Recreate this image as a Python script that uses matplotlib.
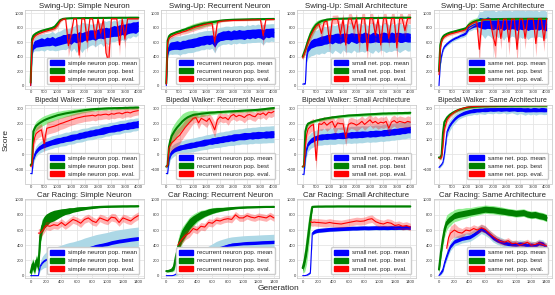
import numpy as np
import matplotlib
matplotlib.use("Agg")
import matplotlib.pyplot as plt
from matplotlib.patches import Patch

nan = np.nan

# generations (x) for swing-up / bipedal rows and for car racing row
gen = [0, 50, 100, 150, 200,
       300, 400, 500, 600, 700, 800, 900, 1000,
       1100, 1200, 1300, 1400, 1500, 1600, 1700, 1800, 1900, 2000,
       2100, 2200, 2300, 2400, 2500, 2600, 2700, 2800, 2900, 3000,
       3100, 3200, 3300, 3400, 3500, 3600, 3700, 3800, 3900, 4000]
gen_cr = [0, 25, 50, 75, 100, 125, 150, 175, 200,
          250, 300, 350, 400, 450, 500, 550, 600,
          650, 700, 750, 800, 850, 900, 950, 1000,
          1050, 1100, 1150, 1200, 1250, 1300, 1350, 1400]

# ---- Swing-Up: simple neuron
sw_sn_mean = [0, 470, 550, 570, 580,
              590, 600, 595, 610, 605, 620, 600, 615,
              625, 640, 645, 655, 640, 665, 655, 675, 665, 685,
              690, 700, 705, 695, 715, 725, 720, 735, 730, 745,
              755, 750, 765, 775, 770, 790, 795, 805, 800, 820]
sw_sn_nz = [0, 40, 50, 55, 50,
            55, 60, 50, 60, 55, 60, 55, 60,
            60, 65, 60, 65, 70, 60, 65, 70, 65, 60,
            65, 70, 65, 70, 65, 70, 75, 70, 65, 70,
            75, 70, 75, 70, 80, 75, 70, 75, 80, 70]
sw_sn_sd = [0, 60, 80, 90, 100,
            110, 110, 120, 110, 120, 130, 120, 130,
            130, 140, 150, 130, 170, 150, 200, 160, 210, 180,
            170, 150, 140, 160, 150, 140, 180, 150, 170, 140,
            150, 130, 150, 140, 160, 130, 140, 120, 130, 120]
sw_sn_best = [40, 640, 690, 705, 720,
              740, 755, 765, 775, 785, 795, 815, 860,
              905, 920, 925, 928, 930, 930, 930, 931, 931, 932,
              932, 932, 933, 933, 933, 934, 934, 934, 935, 935,
              935, 935, 936, 936, 936, 936, 937, 937, 937, 937]
sw_sn_bsd = [0, 40, 35, 30, 25,
             20, 20, 20, 25, 20, 25, 30, 35,
             15, 8, 6, 5, 5, 5, 5, 5, 5, 5,
             5, 5, 5, 5, 5, 5, 5, 5, 5, 5,
             5, 5, 5, 5, 5, 5, 5, 5, 5, 5]
sw_sn_eval = [0, 600, 650, 680, 695,
              715, 730, 745, 755, 765, 775, 790, 830,
              890, 915, 920, 550, 700, 922, 922, 420, 922, 922,
              600, 922, 922, 650, 922, 720, 922, 450, 330, 922,
              922, 922, 560, 922, 640, 922, 922, 922, 922, 922]
sw_sn_esd = [0, 30, 30, 25, 20,
             20, 20, 20, 20, 20, 25, 25, 30,
             20, 10, 10, 150, 120, 10, 10, 180, 10, 10,
             150, 10, 10, 130, 10, 120, 10, 160, 200, 10,
             10, 10, 150, 10, 130, 10, 10, 10, 10, 10]

# ---- Swing-Up: recurrent neuron
sw_rn_mean = [0, 460, 530, 545, 550,
              555, 560, 550, 565, 570, 580, 585, 590,
              600, 610, 620, 625, 635, 630, 640, 600, 660, 680,
              690, 695, 700, 690, 705, 700, 710, 705, 700, 715,
              710, 720, 715, 725, 720, 700, 730, 725, 735, 730]
sw_rn_nz = [0, 40, 50, 55, 55,
            55, 60, 55, 60, 55, 60, 60, 65,
            60, 65, 60, 65, 60, 65, 60, 70, 65, 60,
            65, 60, 65, 60, 65, 60, 65, 60, 65, 60,
            65, 60, 65, 60, 65, 70, 60, 65, 60, 65]
sw_rn_sd = [0, 80, 100, 110, 120,
            120, 125, 130, 125, 130, 125, 130, 130,
            125, 130, 125, 130, 125, 130, 125, 150, 130, 125,
            120, 125, 120, 125, 120, 125, 120, 125, 120, 125,
            120, 125, 120, 125, 120, 140, 120, 125, 120, 125]
sw_rn_best = [30, 620, 680, 700, 710,
              725, 740, 750, 765, 775, 790, 800, 815,
              825, 835, 845, 855, 860, 868, 875, 880, 888, 895,
              900, 903, 905, 907, 909, 910, 911, 912, 913, 914,
              915, 916, 916, 917, 917, 918, 918, 919, 919, 920]
sw_rn_bsd = [0, 40, 35, 30, 25,
             20, 20, 25, 25, 30, 35, 40, 40,
             40, 40, 40, 40, 35, 35, 30, 30, 20, 15,
             10, 10, 10, 10, 10, 10, 10, 10, 10, 10,
             10, 10, 10, 10, 10, 10, 10, 10, 10, 10]
sw_rn_eval = [20, 590, 650, 670, 680,
              700, 715, 725, 740, 750, 765, 780, 795,
              810, 820, 830, 840, 850, 855, 860, 600, 875, 885,
              890, 893, 895, 897, 899, 900, 901, 902, 903, 904,
              905, 906, 907, 908, 909, 690, 910, 911, 912, 912]
sw_rn_esd = [0, 30, 30, 25, 25,
             25, 25, 30, 30, 35, 40, 40, 45,
             45, 45, 45, 40, 40, 35, 35, 150, 25, 15,
             10, 10, 10, 10, 10, 10, 10, 10, 10, 10,
             10, 10, 10, 10, 10, 150, 10, 10, 10, 10]

# ---- Swing-Up: small architecture
sw_sa_mean = [20, 25, 30, 420, 520,
              570, 590, 600, 610, 620, 630, 640, 650,
              640, 660, 655, 650, 665, 660, 645, 670, 660, 650,
              665, 655, 670, 660, 650, 665, 670, 655, 660, 670,
              665, 655, 670, 660, 675, 665, 660, 670, 665, 660]
sw_sa_nz = [0, 5, 5, 40, 50,
            55, 60, 55, 60, 65, 60, 65, 60,
            65, 60, 70, 65, 60, 65, 70, 60, 65, 70,
            60, 65, 70, 65, 60, 70, 65, 60, 65, 70,
            65, 60, 70, 65, 60, 70, 65, 60, 65, 60]
sw_sa_sd = [0, 5, 5, 100, 140,
            160, 170, 160, 180, 170, 190, 170, 180,
            200, 170, 190, 210, 170, 200, 180, 220, 170, 190,
            200, 180, 210, 170, 190, 220, 180, 200, 170, 190,
            210, 180, 200, 170, 190, 210, 180, 170, 190, 180]
sw_sa_best = [400, 450, 500, 560, 620,
              720, 790, 840, 870, 890, 900, 910, 915,
              918, 920, 922, 923, 924, 925, 926, 927, 928, 929,
              930, 930, 931, 931, 932, 932, 933, 933, 934, 934,
              935, 935, 935, 936, 936, 936, 937, 937, 937, 938]
sw_sa_bsd = [30, 50, 60, 70, 70,
             70, 60, 50, 40, 30, 25, 20, 15,
             10, 10, 10, 10, 10, 10, 10, 10, 10, 10,
             10, 10, 10, 10, 10, 10, 10, 10, 10, 10,
             10, 10, 10, 10, 10, 10, 10, 10, 10, 10]
sw_sa_eval = [380, 430, 480, 540, 590,
              690, 760, 820, 850, 720, 880, 890, 600,
              910, 912, 915, 700, 920, 560, 920, 925, 780, 925,
              600, 925, 925, 480, 925, 925, 700, 925, 560, 925,
              925, 650, 925, 925, 520, 925, 925, 760, 925, 925]
sw_sa_esd = [30, 40, 50, 60, 60,
             60, 50, 40, 40, 120, 40, 40, 150,
             60, 60, 60, 150, 70, 150, 70, 70, 120, 70,
             150, 70, 70, 150, 70, 70, 130, 70, 150, 70,
             70, 130, 70, 70, 150, 70, 70, 120, 70, 70]

# ---- Swing-Up: same architecture
sw_sm_mean = [0, 300, 420, 500, 540,
              580, 610, 635, 655, 670, 690, 705, 725,
              800, 820, 840, 855, 870, 860, 850, 870, 860, 850,
              860, 850, 860, 845, 860, 850, 855, 860, 845, 855,
              850, 860, 845, 855, 850, 860, 850, 855, 845, 840]
sw_sm_nz = [0, 10, 10, 10, 10,
            10, 10, 10, 10, 10, 10, 15, 15,
            30, 30, 35, 40, 70, 75, 70, 80, 75, 80,
            75, 80, 70, 85, 75, 80, 70, 80, 85, 75,
            80, 75, 85, 80, 75, 80, 85, 75, 80, 85]
sw_sm_sd = [0, 30, 30, 30, 30,
            30, 30, 30, 30, 30, 35, 40, 40,
            50, 60, 60, 80, 150, 160, 200, 170, 180, 210,
            160, 190, 170, 220, 180, 200, 170, 190, 230, 180,
            200, 170, 210, 190, 180, 200, 170, 190, 200, 180]
sw_sm_best = [200, 560, 640, 675, 695,
              715, 730, 740, 750, 760, 770, 780, 790,
              835, 860, 880, 895, 905, 910, 912, 914, 915, 916,
              917, 918, 918, 919, 919, 920, 920, 920, 921, 921,
              921, 921, 922, 922, 922, 922, 922, 923, 923, 923]
sw_sm_bsd = [0, 40, 30, 25, 20,
             20, 20, 20, 20, 20, 20, 25, 30,
             50, 50, 45, 40, 20, 15, 10, 10, 10, 10,
             10, 10, 10, 10, 10, 10, 10, 10, 10, 10,
             10, 10, 10, 10, 10, 10, 10, 10, 10, 10]
sw_sm_eval = [150, 520, 610, 650, 670,
              695, 710, 720, 730, 740, 750, 760, 775,
              825, 850, 870, 885, 500, 905, 910, 912, 914, 700,
              550, 916, 650, 917, 918, 600, 918, 919, 500, 919,
              920, 650, 920, 921, 921, 580, 921, 922, 620, 922]
sw_sm_esd = [0, 30, 25, 20, 20,
             20, 20, 20, 20, 20, 20, 25, 30,
             45, 45, 40, 35, 200, 15, 10, 10, 10, 150,
             200, 10, 150, 10, 10, 180, 10, 10, 200, 10,
             10, 150, 10, 10, 10, 180, 10, 10, 150, 10]

# ---- Bipedal Walker: simple neuron
bw_sn_mean = [-125, -125, -30, 0, 20,
              40, 52, 62, 68, 74, 80, 85, 89,
              93, 97, 101, 105, 109, 113, 117, 121, 125, 129,
              133, 137, 140, 144, 147, 151, 155, 159, 163, 167,
              170, 173, 176, 180, 183, 186, 189, 192, 195, 198]
bw_sn_nz = [0, 0, 10, 15, 15,
            15, 15, 18, 18, 18, 18, 20, 20,
            18, 20, 18, 20, 22, 20, 18, 22, 20, 22,
            20, 22, 20, 22, 20, 22, 24, 22, 20, 22,
            24, 22, 24, 22, 20, 24, 22, 24, 22, 24]
bw_sn_sd = [5, 5, 30, 35, 35,
            35, 38, 40, 40, 40, 42, 40, 42,
            40, 42, 44, 40, 42, 44, 40, 42, 44, 42,
            40, 42, 44, 42, 40, 44, 42, 40, 44, 42,
            40, 42, 44, 42, 40, 42, 44, 40, 42, 40]
bw_sn_best = [-70, -60, 150, 170, 185,
              200, 212, 222, 230, 237, 243, 249, 255,
              259, 263, 267, 270, 273, 276, 279, 282, 285, 288,
              290, 292, 294, 295, 296, 297, 298, 299, 300, 300,
              301, 301, 302, 302, 303, 303, 304, 304, 305, 305]
bw_sn_bsd = [10, 10, 30, 30, 30,
             30, 30, 30, 28, 28, 28, 26, 26,
             24, 24, 22, 22, 20, 20, 18, 18, 16, 16,
             14, 14, 12, 12, 12, 10, 10, 10, 10, 10,
             10, 10, 10, 10, 10, 10, 10, 10, 10, 10]
bw_sn_eval = [-80, -70, 60, 110, 135,
              150, 160, 70, 170, 175, 180, 185, 192,
              200, 205, 212, 218, 225, 230, 236, 240, 244, 248,
              250, 252, 255, 250, 258, 256, 260, 262, 257, 265,
              262, 268, 270, 264, 272, 275, 270, 278, 282, 285]
bw_sn_esd = [10, 10, 40, 40, 40,
             40, 40, 60, 40, 40, 40, 40, 40,
             38, 38, 38, 36, 36, 36, 35, 35, 35, 34,
             34, 34, 32, 32, 32, 30, 30, 30, 30, 30,
             30, 30, 30, 30, 30, 30, 28, 28, 28, 28]

# ---- Bipedal Walker: recurrent neuron
bw_rn_mean = [-125, -125, -40, 0, 15,
              30, 38, 44, 48, 52, 56, 59, 62,
              66, 70, 73, 77, 80, 84, 87, 90, 93, 96,
              99, 102, 105, 108, 110, 113, 115, 117, 119, 120,
              122, 123, 125, 126, 127, 128, 129, 130, 131, 132]
bw_rn_nz = [0, 0, 10, 15, 15,
            15, 16, 18, 16, 18, 18, 20, 18,
            20, 18, 20, 22, 20, 18, 22, 20, 22, 20,
            22, 20, 22, 20, 24, 22, 20, 22, 24, 22,
            20, 24, 22, 24, 22, 20, 24, 22, 24, 22]
bw_rn_sd = [5, 5, 30, 35, 40,
            40, 40, 42, 42, 44, 44, 45, 45,
            45, 46, 45, 46, 48, 46, 48, 46, 48, 50,
            48, 50, 48, 50, 52, 50, 52, 50, 52, 54,
            52, 54, 52, 54, 55, 54, 55, 54, 55, 55]
bw_rn_best = [-80, -70, 50, 90, 120,
              150, 175, 195, 215, 230, 242, 250, 257,
              260, 262, 265, 267, 269, 271, 272, 273, 275, 276,
              277, 278, 279, 280, 281, 282, 283, 284, 285, 286,
              287, 288, 289, 290, 292, 294, 296, 298, 300, 302]
bw_rn_bsd = [10, 10, 40, 50, 50,
             50, 50, 50, 50, 45, 40, 35, 30,
             25, 20, 20, 18, 16, 15, 14, 12, 12, 10,
             10, 10, 10, 10, 10, 10, 10, 10, 10, 10,
             10, 10, 10, 10, 10, 10, 10, 10, 10, 10]
bw_rn_eval = [-80, -70, 40, 60, 75,
              90, 110, 125, 150, 175, 195, 215, 235,
              240, 205, 235, 225, 215, 235, 200, 160, 225, 245,
              235, 240, 225, 250, 260, 245, 255, 250, 240, 255,
              260, 250, 245, 265, 260, 270, 255, 275, 270, 280]
bw_rn_esd = [10, 10, 40, 50, 55,
             55, 55, 55, 50, 50, 45, 40, 35,
             30, 40, 30, 35, 40, 30, 45, 50, 35, 30,
             30, 30, 35, 30, 30, 30, 30, 30, 35, 30,
             30, 30, 30, 30, 30, 30, 30, 30, 30, 30]

# ---- Bipedal Walker: small architecture
bw_sa_mean = [-130, -130, -20, 40, 70,
              90, 100, 108, 112, 114, 116, 117, 118,
              119, 121, 122, 123, 124, 125, 126, 127, 128, 129,
              130, 131, 132, 133, 134, 135, 136, 137, 138, 140,
              142, 144, 146, 148, 150, 152, 155, 157, 160, 162]
bw_sa_nz = [0, 0, 10, 15, 15,
            16, 18, 16, 18, 20, 18, 20, 18,
            20, 22, 18, 20, 22, 20, 18, 22, 20, 22,
            20, 22, 20, 18, 22, 20, 22, 20, 18, 22,
            20, 22, 20, 22, 20, 22, 20, 22, 20, 22]
bw_sa_sd = [5, 5, 40, 50, 50,
            50, 52, 50, 52, 54, 52, 54, 52,
            54, 56, 52, 54, 56, 54, 52, 56, 54, 56,
            54, 56, 54, 52, 56, 54, 56, 54, 52, 56,
            54, 56, 54, 56, 54, 56, 54, 56, 54, 56]
bw_sa_best = [-80, -75, 150, 185, 200,
              208, 214, 220, 224, 228, 232, 235, 238,
              241, 243, 245, 247, 249, 251, 253, 254, 255, 256,
              257, 258, 259, 260, 261, 262, 263, 264, 265, 266,
              266, 267, 267, 268, 268, 269, 269, 270, 270, 271]
bw_sa_bsd = [10, 10, 20, 15, 12,
             10, 10, 10, 10, 10, 10, 10, 10,
             10, 10, 10, 10, 10, 10, 10, 10, 10, 10,
             10, 10, 10, 10, 10, 10, 10, 10, 10, 10,
             10, 10, 10, 10, 10, 10, 10, 10, 10, 10]
bw_sa_eval = [-80, -75, 50, 130, 165,
              185, 195, -40, 200, 195, 210, 190, 205,
              215, 175, 205, 200, 200, 110, 195, 205, 200, 190,
              200, 215, 195, 210, 225, 205, 215, 200, 210, 205,
              215, 170, 210, 220, 205, 215, 210, 205, 215, 210]
bw_sa_esd = [10, 10, 40, 40, 40,
             40, 40, 60, 40, 40, 38, 40, 38,
             38, 45, 38, 38, 38, 55, 38, 36, 36, 38,
             36, 36, 38, 36, 36, 36, 36, 36, 36, 36,
             36, 45, 36, 36, 36, 36, 36, 36, 36, 36]

# ---- Bipedal Walker: same architecture
bw_sm_mean = [-85, -75, -65, -50, 0,
              150, 190, 215, 235, 250, 260, 268, 274,
              279, 283, 286, 288, 290, 291, 292, 293, 294, 294,
              295, 295, 294, 296, 295, 294, 296, 295, 293, 294,
              292, 290, 291, 289, 292, 291, 290, 292, 291, 290]
bw_sm_nz = [2, 2, 2, 2, 5,
            10, 10, 10, 10, 10, 10, 12, 12,
            12, 12, 14, 12, 14, 12, 14, 14, 12, 14,
            14, 12, 14, 14, 12, 14, 14, 12, 14, 14,
            12, 14, 14, 12, 14, 14, 12, 14, 14, 12]
bw_sm_sd = [10, 10, 10, 15, 30,
            40, 35, 30, 30, 25, 25, 25, 25,
            25, 28, 25, 30, 25, 28, 32, 25, 28, 30,
            25, 30, 28, 25, 32, 28, 25, 30, 35, 28,
            30, 35, 28, 32, 30, 35, 28, 30, 32, 30]
bw_sm_best = [-20, -25, 0, 140, 210,
              240, 258, 270, 280, 288, 294, 299, 303,
              306, 308, 310, 311, 312, 313, 314, 314, 315, 315,
              315, 316, 316, 316, 316, 317, 317, 317, 317, 317,
              317, 317, 317, 318, 318, 318, 318, 318, 318, 318]
bw_sm_bsd = [10, 10, 15, 20, 20,
             15, 12, 10, 10, 10, 10, 10, 10,
             10, 10, 10, 10, 10, 10, 10, 10, 10, 10,
             10, 10, 10, 10, 10, 10, 10, 10, 10, 10,
             10, 10, 10, 10, 10, 10, 10, 10, 10, 10]
bw_sm_eval = [-25, -25, -20, 60, 160,
              225, 250, 265, 278, 288, 295, 300, 305,
              308, 310, 312, 313, 314, 315, 316, 316, 317, 317,
              317, 318, 318, 318, 318, 319, 319, 319, 319, 319,
              319, 319, 319, 320, 320, 320, 320, 320, 320, 320]
bw_sm_esd = [10, 10, 15, 30, 30,
             20, 15, 12, 10, 10, 10, 10, 10,
             10, 10, 10, 10, 10, 10, 10, 10, 10, 10,
             10, 10, 10, 10, 10, 10, 10, 10, 10, 10,
             10, 10, 10, 10, 10, 10, 10, 10, 10, 10]

# ---- Car Racing: simple neuron
cr_sn_mean = [0, 0, 0, 0, 0, 130, 170, 195, 210,
              230, 245, 260, 272, 285, 295, 305, 315,
              330, 345, 360, 375, 390, 400, 410, 420,
              435, 445, 455, 462, 470, 478, 484, 490]
cr_sn_nz = [0, 0, 0, 0, 0, 10, 10, 10, 10,
            10, 12, 12, 12, 15, 15, 15, 18,
            18, 20, 20, 20, 22, 22, 22, 25,
            25, 25, 25, 25, 25, 25, 25, 25]
cr_sn_sd = [0, 0, 0, 0, 0, 60, 80, 90, 100,
            110, 120, 125, 130, 135, 140, 140, 145,
            145, 150, 150, 150, 150, 150, 150, 150,
            150, 150, 150, 150, 150, 150, 150, 150]
cr_sn_best = [40, 150, 90, 200, 120, 520, 650, 700, 730,
              770, 790, 810, 830, 845, 855, 865, 875,
              882, 888, 893, 898, 902, 905, 907, 909,
              910, 911, 912, 913, 913, 914, 914, 915]
cr_sn_bnz = [50, 60, 60, 60, 60, 80, 80, 80, 80,
             70, 70, 60, 50, 40, 40, 30, 30,
             25, 20, 15, 15, 12, 10, 10, 10,
             8, 8, 8, 8, 8, 8, 8, 8]
cr_sn_bsd = [60, 80, 80, 80, 100, 120, 100, 80, 70,
             60, 50, 45, 40, 35, 30, 28, 25,
             22, 20, 18, 15, 12, 10, 10, 10,
             8, 8, 8, 8, 8, 8, 8, 8]
cr_sn_eval = [nan, nan, nan, nan, 560, 560, 590, 620, 660,
              650, 670, 660, 700, 660, 700, 740, 720,
              690, 740, 760, 720, 700, 760, 740, 720,
              770, 760, 700, 760, 740, 720, 760, 790]
cr_sn_esd = [0, 0, 0, 0, 60, 60, 60, 55, 55,
             55, 50, 50, 50, 50, 55, 50, 50,
             55, 50, 50, 55, 50, 50, 55, 50,
             50, 55, 50, 50, 55, 50, 50, 50]

# ---- Car Racing: recurrent neuron
cr_rn_mean = [0, 0, 0, 0, 5, 20, 40, 60, 80,
              110, 140, 170, 200, 230, 260, 290, 320,
              350, 370, 385, 400, 410, 415, 420, 425,
              428, 430, 432, 435, 438, 440, 442, 445]
cr_rn_nz = [0, 0, 0, 0, 0, 0, 0, 0, 0,
            0, 0, 0, 0, 0, 2, 2, 5,
            5, 8, 10, 15, 20, 20, 20, 20,
            22, 22, 22, 22, 22, 22, 22, 22]
cr_rn_sd = [0, 0, 0, 0, 5, 20, 30, 40, 50,
            60, 70, 80, 85, 90, 95, 100, 100,
            100, 100, 100, 100, 100, 100, 100, 100,
            100, 100, 100, 100, 100, 100, 100, 100]
cr_rn_best = [60, 60, 70, 80, 120, 250, 350, 450, 520,
              600, 680, 730, 770, 800, 820, 840, 855,
              865, 872, 878, 883, 888, 892, 895, 898,
              900, 901, 902, 903, 904, 905, 905, 906]
cr_rn_bnz = [10, 10, 15, 20, 40, 60, 80, 80, 80,
             80, 70, 60, 50, 50, 40, 40, 35,
             30, 25, 20, 18, 15, 12, 10, 10,
             8, 8, 8, 8, 8, 8, 8, 8]
cr_rn_bsd = [10, 10, 20, 30, 60, 100, 120, 120, 110,
             100, 90, 80, 70, 60, 50, 45, 40,
             35, 30, 25, 20, 15, 12, 10, 10,
             8, 8, 8, 8, 8, 8, 8, 8]
cr_rn_eval = [nan, nan, nan, nan, nan, nan, 400, 440, 480,
              530, 560, 620, 600, 650, 640, 700, 690,
              730, 720, 740, 750, 740, 800, 760, 760,
              790, 770, 760, 780, 770, 760, 790, 760]
cr_rn_esd = [0, 0, 0, 0, 0, 0, 60, 60, 60,
             55, 55, 50, 50, 50, 50, 50, 50,
             45, 45, 45, 45, 45, 45, 45, 45,
             45, 45, 45, 45, 45, 45, 45, 45]

# ---- Car Racing: small architecture
cr_sa_mean = [0, 0, 5, 20, 40, 560, 580, 590, 595,
              600, 605, 610, 612, 615, 618, 620, 622,
              625, 625, 628, 630, 628, 630, 632, 630,
              632, 630, 633, 631, 634, 632, 635, 633]
cr_sa_nz = [0, 0, 2, 5, 5, 20, 25, 25, 25,
            25, 25, 25, 25, 25, 25, 25, 25,
            25, 25, 25, 25, 25, 25, 25, 25,
            25, 25, 25, 25, 25, 25, 25, 25]
cr_sa_sd = [0, 0, 5, 10, 10, 30, 30, 30, 30,
            30, 30, 30, 30, 30, 30, 30, 30,
            30, 30, 30, 30, 30, 30, 30, 30,
            30, 30, 30, 30, 30, 30, 30, 30]
cr_sa_best = [100, 200, 350, 550, 750, 905, 908, 909, 910,
              910, 911, 911, 911, 912, 912, 912, 912,
              912, 912, 912, 912, 912, 912, 912, 912,
              912, 912, 912, 912, 912, 912, 912, 912]
cr_sa_bnz = [40, 60, 80, 80, 60, 5, 5, 5, 5,
             5, 5, 5, 5, 5, 5, 5, 5,
             5, 5, 5, 5, 5, 5, 5, 5,
             5, 5, 5, 5, 5, 5, 5, 5]
cr_sa_bsd = [60, 150, 200, 200, 150, 10, 5, 5, 5,
             5, 5, 5, 5, 5, 5, 5, 5,
             5, 5, 5, 5, 5, 5, 5, 5,
             5, 5, 5, 5, 5, 5, 5, 5]
cr_sa_eval = [nan, nan, nan, nan, 710, 700, 705, 700, 700,
              695, 690, 700, 690, 685, 680, 690, 700,
              710, 720, 715, 720, 740, 750, 710, 690,
              680, 700, 690, 660, 670, 650, 660, 640]
cr_sa_esd = [0, 0, 0, 0, 50, 50, 50, 50, 50,
             50, 50, 50, 50, 50, 50, 50, 50,
             50, 50, 50, 50, 50, 50, 50, 50,
             50, 50, 50, 50, 50, 50, 50, 50]

# ---- Car Racing: same architecture
cr_sm_mean = [0, 40, 80, 180, 260, 330, 390, 420, 450,
              470, 490, 500, 510, 540, 575, 615, 590,
              550, 500, 470, 450, 430, 420, 415, 410,
              420, 415, 400, 405, 395, 430, 420, 370]
cr_sm_nz = [0, 15, 20, 20, 25, 25, 25, 25, 25,
            25, 25, 25, 25, 25, 25, 25, 25,
            25, 25, 25, 25, 25, 25, 25, 25,
            25, 25, 25, 25, 25, 25, 25, 25]
cr_sm_sd = [0, 30, 40, 50, 60, 60, 60, 60, 60,
            60, 60, 60, 60, 60, 60, 60, 60,
            55, 55, 55, 55, 50, 50, 50, 50,
            50, 50, 50, 50, 50, 50, 50, 50]
cr_sm_best = [80, 300, 480, 620, 700, 730, 750, 770, 790,
              805, 815, 825, 835, 845, 855, 865, 875,
              870, 868, 860, 852, 845, 835, 830, 820,
              825, 830, 810, 800, 805, 790, 780, 760]
cr_sm_bnz = [30, 40, 40, 40, 40, 40, 40, 40, 40,
             40, 40, 40, 40, 40, 40, 40, 40,
             40, 40, 40, 40, 40, 40, 40, 40,
             40, 40, 40, 40, 40, 40, 40, 40]
cr_sm_bsd = [40, 80, 100, 100, 100, 90, 90, 80, 80,
             80, 70, 70, 60, 60, 60, 55, 55,
             55, 55, 55, 55, 50, 50, 50, 50,
             50, 50, 50, 50, 50, 50, 50, 50]
cr_sm_eval = [nan, nan, nan, nan, 360, 500, 560, 580, 600,
              570, 560, 600, 590, 620, 600, 630, 610,
              560, 520, 480, 450, 440, 460, 420, 430,
              400, 420, 440, 400, 410, 430, 410, 390]
cr_sm_esd = [0, 0, 0, 0, 60, 80, 90, 90, 90,
             70, 60, 50, 50, 50, 50, 50, 50,
             45, 45, 40, 40, 40, 40, 40, 40,
             40, 40, 40, 40, 40, 40, 40, 40]

tasks = ["Swing-Up", "Bipedal Walker", "Car Racing"]
variants = ["Simple Neuron", "Recurrent Neuron", "Small Architecture", "Same Architecture"]
legend_names = ["simple neuron", "recurrent neuron", "small net.", "same net."]

panels = [
    [(sw_sn_mean, sw_sn_nz, sw_sn_sd, sw_sn_best, sw_sn_bsd, None, sw_sn_eval, sw_sn_esd),
     (sw_rn_mean, sw_rn_nz, sw_rn_sd, sw_rn_best, sw_rn_bsd, None, sw_rn_eval, sw_rn_esd),
     (sw_sa_mean, sw_sa_nz, sw_sa_sd, sw_sa_best, sw_sa_bsd, None, sw_sa_eval, sw_sa_esd),
     (sw_sm_mean, sw_sm_nz, sw_sm_sd, sw_sm_best, sw_sm_bsd, None, sw_sm_eval, sw_sm_esd)],
    [(bw_sn_mean, bw_sn_nz, bw_sn_sd, bw_sn_best, bw_sn_bsd, None, bw_sn_eval, bw_sn_esd),
     (bw_rn_mean, bw_rn_nz, bw_rn_sd, bw_rn_best, bw_rn_bsd, None, bw_rn_eval, bw_rn_esd),
     (bw_sa_mean, bw_sa_nz, bw_sa_sd, bw_sa_best, bw_sa_bsd, None, bw_sa_eval, bw_sa_esd),
     (bw_sm_mean, bw_sm_nz, bw_sm_sd, bw_sm_best, bw_sm_bsd, None, bw_sm_eval, bw_sm_esd)],
    [(cr_sn_mean, cr_sn_nz, cr_sn_sd, cr_sn_best, cr_sn_bsd, cr_sn_bnz, cr_sn_eval, cr_sn_esd),
     (cr_rn_mean, cr_rn_nz, cr_rn_sd, cr_rn_best, cr_rn_bsd, cr_rn_bnz, cr_rn_eval, cr_rn_esd),
     (cr_sa_mean, cr_sa_nz, cr_sa_sd, cr_sa_best, cr_sa_bsd, cr_sa_bnz, cr_sa_eval, cr_sa_esd),
     (cr_sm_mean, cr_sm_nz, cr_sm_sd, cr_sm_best, cr_sm_bsd, cr_sm_bnz, cr_sm_eval, cr_sm_esd)],
]

plt.style.use("seaborn-v0_8-whitegrid")
W, H = 555, 295
fig = plt.figure(figsize=(W / 100, H / 100), dpi=100)

col_left = [25.3, 160.9, 297.3, 433.6]
row_top = [9.5, 104.5, 199.3]
ax_w, ax_h = 118.4, 79

ylims = [(-40, 1050), (-190, 325), (-35, 1005)]
yticks = [range(0, 1001, 200), range(-100, 301, 100), range(0, 1001, 200)]
xlims = [(-200, 4200), (-200, 4200), (-70, 1470)]
xticks = [range(0, 4001, 500), range(0, 4001, 500), range(0, 1401, 200)]
title_size = [5.7, 5.0, 5.6]


def draw(ax, g, mean, nz, sd, best, bsd, bnz, ev, esd):
    g = np.array(g, float)
    m, nz, sd = np.array(mean, float), np.array(nz, float), np.array(sd, float)
    b, bsd = np.array(best, float), np.array(bsd, float)
    e, esd = np.array(ev, float), np.array(esd, float)
    ax.fill_between(g, m - sd, m + sd, color="lightblue", lw=0)
    ax.fill_between(g, m - nz, m + nz, color="blue", lw=0)
    ax.plot(g, m, color="blue", lw=0.8)
    ax.fill_between(g, b - bsd, b + bsd, color="lightgreen", lw=0)
    if bnz is not None:
        bnz = np.array(bnz, float)
        ax.fill_between(g, b - bnz, b + bnz, color="green", lw=0)
    ax.plot(g, b, color="green", lw=1.5)
    ax.fill_between(g, e - esd, e + esd, color="red", alpha=0.3, lw=0)
    ax.plot(g, e, color="red", lw=0.8)


for r in range(3):
    g = gen if r < 2 else gen_cr
    for c in range(4):
        ax = fig.add_axes([col_left[c] / W, 1 - (row_top[r] + ax_h) / H, ax_w / W, ax_h / H])
        draw(ax, g, *panels[r][c])
        ax.set_xlim(*xlims[r])
        ax.set_ylim(*ylims[r])
        ax.set_xticks(list(xticks[r]))
        ax.set_yticks(list(yticks[r]))
        ax.tick_params(labelsize=3.0, pad=1, length=0, colors="#333333")
        ax.grid(True, color="#e5e5e5", lw=0.6)
        for s in ax.spines.values():
            s.set_color("#cccccc")
            s.set_linewidth(0.6)
        ax.set_title(f"{tasks[r]}: {variants[c]}", fontsize=title_size[r], pad=1.2,
                     color="#262626")
        nm = legend_names[c]
        handles = [Patch(color="blue", label=f"{nm} pop. mean"),
                   Patch(color="green", label=f"{nm} pop. best"),
                   Patch(color="red", label=f"{nm} pop. eval.")]
        ax.legend(handles=handles, loc="lower right", fontsize=4.4, frameon=True,
                  framealpha=1, facecolor="white", edgecolor="#cccccc",
                  handlelength=2.4, handleheight=0.9, handletextpad=0.6,
                  borderaxespad=0.7, labelspacing=0.4)

fig.text(6 / W, 1 - 140 / H, "Score", rotation=90, fontsize=6.0, ha="center", va="center",
         color="#262626")
fig.text(278 / W, 1 - 289 / H, "Generation", fontsize=6.0, ha="center", va="center",
         color="#262626")

fig.savefig("out.png", dpi=100)
